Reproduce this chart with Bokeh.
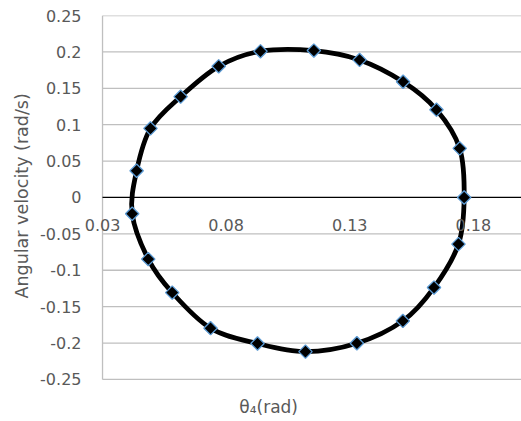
import numpy as np
from bokeh.plotting import figure
from bokeh.models import (Range1d, FixedTicker, CustomJSTickFormatter,
                          ColumnDataSource, LabelSet, Label, Title)
from bokeh.core.properties import value
from bokeh.embed import file_html
from bokeh.resources import INLINE

# data (theta4 in rad, angular velocity in rad/s)
theta4 = [0.0420, 0.0438, 0.0494, 0.0616, 0.0770, 0.0939, 0.1155, 0.1340,
          0.1516, 0.1651, 0.1745, 0.1763, 0.1740, 0.1641, 0.1515, 0.1329,
          0.1121, 0.0927, 0.0737, 0.0582, 0.0485]
omega = [-0.0224, 0.0367, 0.0949, 0.1385, 0.1802, 0.2008, 0.2018, 0.1890,
         0.1590, 0.1206, 0.0674, 0.0000, -0.0641, -0.1238, -0.1696, -0.2003,
         -0.2118, -0.2006, -0.1796, -0.1307, -0.0847]

x_ticks = [0.03, 0.08, 0.13, 0.18]
x_tick_labels = ["0.03", "0.08", "0.13", "0.18"]
y_ticks = [-0.25, -0.2, -0.15, -0.1, -0.05, 0.0, 0.05, 0.1, 0.15, 0.2, 0.25]
x_min, x_max = 0.03, 0.1995
y_min, y_max = -0.25, 0.25

FONT = "DejaVu Sans"
TXT = "#595959"
GRID = "#BFBFBF"

p = figure(width=521, height=421, output_backend="svg", toolbar_location=None,
           x_range=Range1d(0.0219, x_max), y_range=Range1d(-0.3078, y_max),
           x_axis_location=None,
           min_border_left=82, min_border_right=0, min_border_top=15,
           min_border_bottom=0)
p.outline_line_color = None
p.xgrid.visible = False
p.ygrid.visible = False

# y axis (tick labels only)
ya = p.yaxis[0]
ya.ticker = FixedTicker(ticks=y_ticks)
ya.formatter = CustomJSTickFormatter(code="""
let s = tick.toFixed(2);
s = s.replace(/0+$/, '').replace(/\\.$/, '');
if (s == '-0') s = '0';
return s;
""")
ya.axis_line_color = None
ya.major_tick_line_color = None
ya.minor_tick_line_color = None
ya.major_tick_out = 0
ya.major_tick_in = 0
ya.minor_tick_out = 0
ya.major_label_text_font = FONT
ya.major_label_text_font_size = "16px"
ya.major_label_text_color = TXT
ya.major_label_standoff = 1

p.add_layout(Title(text="Angular velocity (rad/s)", align="left", offset=123,
                   standoff=11, text_font=FONT, text_font_size="17.5px",
                   text_font_style="normal", text_color=TXT), "left")

# horizontal gridlines, starting at the vertical axis
gy = [t for t in y_ticks if t != 0]
p.segment(x0=[x_min] * len(gy), y0=gy, x1=[x_max] * len(gy), y1=gy,
          line_color=GRID, line_width=1.3)
# vertical axis line at x = 0.03
p.segment(x0=[x_min], y0=[y_min], x1=[x_min], y1=[y_max],
          line_color=GRID, line_width=1.3)
# horizontal axis at y = 0
p.segment(x0=[x_min], y0=[0], x1=[x_max], y1=[0], line_color="black", line_width=1.3)

xsrc = ColumnDataSource(dict(x=x_ticks, y=[0] * len(x_ticks), t=x_tick_labels))
p.add_layout(LabelSet(x="x", y="y", text="t", source=xsrc, y_offset=-28,
                      text_align="center", text_baseline="middle",
                      text_font=value(FONT), text_font_size=value("16px"),
                      text_color=TXT))

p.add_layout(Label(x=0.0972, y=y_min, y_offset=-28, text="θ₄(rad)",
                   text_align="center", text_baseline="middle",
                   text_font=FONT, text_font_size="17px", text_color=TXT))

# smoothed closed curve (Bezier segments, Excel-style)
xs = np.array(theta4)
ys = np.array(omega)
n = len(xs)
i0 = np.arange(n)
im = (i0 - 1) % n
i1 = (i0 + 1) % n
i2 = (i0 + 2) % n
cx0 = xs[i0] + (xs[i1] - xs[im]) / 6
cy0 = ys[i0] + (ys[i1] - ys[im]) / 6
cx1 = xs[i1] - (xs[i2] - xs[i0]) / 6
cy1 = ys[i1] - (ys[i2] - ys[i0]) / 6
p.bezier(x0=xs[i0], y0=ys[i0], x1=xs[i1], y1=ys[i1],
         cx0=cx0, cy0=cy0, cx1=cx1, cy1=cy1,
         line_color="black", line_width=4.8)

p.scatter(theta4, omega, marker="square", angle=np.pi / 4, size=9.5,
          fill_color="black", line_color="#5B9BD5", line_width=1.3)

open("out.html", "w").write(file_html(p, INLINE))
